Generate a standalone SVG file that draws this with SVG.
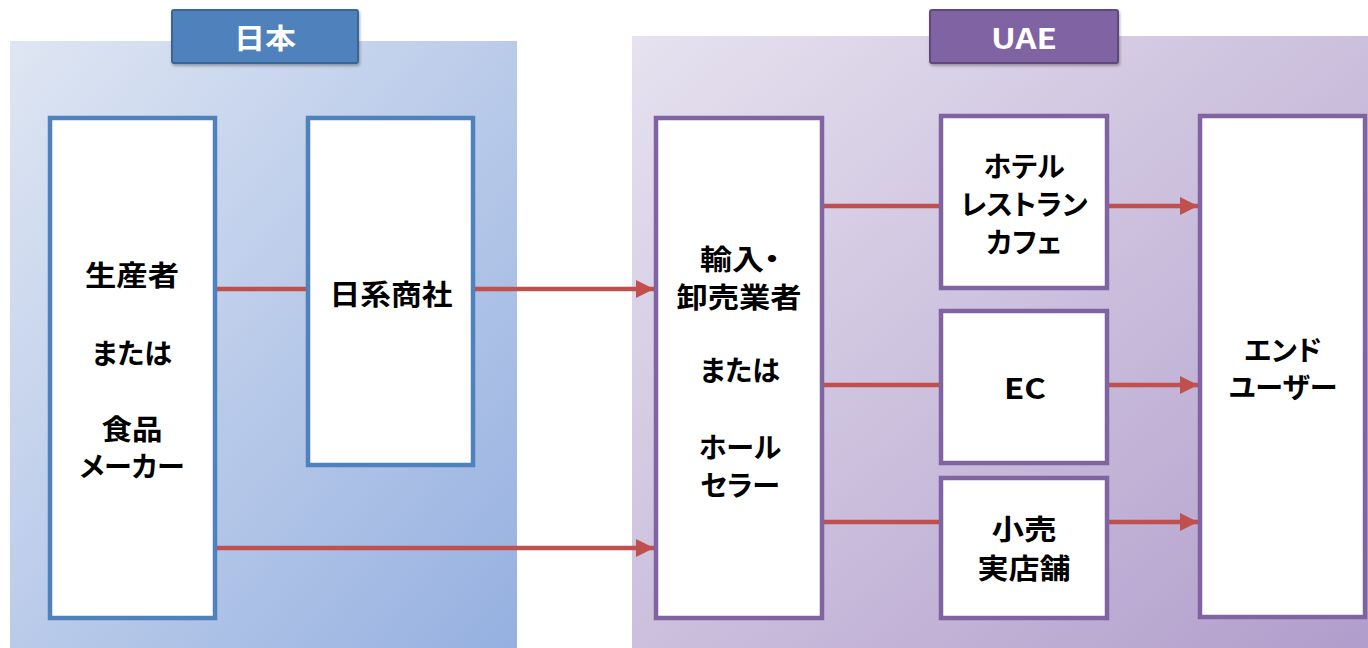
<svg xmlns="http://www.w3.org/2000/svg" width="1368" height="648" viewBox="0 0 1368 648">
<defs>
<linearGradient id="gJP" x1="0" y1="0" x2="1" y2="1">
<stop offset="0" stop-color="#dfe6f3"/>
<stop offset="1" stop-color="#95b0e0"/>
</linearGradient>
<linearGradient id="gUAE" x1="0" y1="0" x2="1" y2="1">
<stop offset="0" stop-color="#e6e2ef"/>
<stop offset="1" stop-color="#b19dcb"/>
</linearGradient>
<marker id="arr" viewBox="0 0 10 10" refX="10" refY="5" markerWidth="4" markerHeight="4" orient="auto" markerUnits="strokeWidth">
<path d="M0,0 L10,5 L0,10 Z" fill="#c0504d"/>
</marker>
<filter id="sh" x="-10%" y="-10%" width="120%" height="130%">
<feDropShadow dx="1" dy="2" stdDeviation="1.5" flood-color="#000" flood-opacity="0.3"/>
</filter>
</defs>
<style>
.t{font-family:"Noto Sans CJK JP","Noto Sans",sans-serif;font-weight:bold;font-size:28px;fill:#000;text-anchor:middle;dominant-baseline:central;font-feature-settings:"palt"}
.lt{font-family:"Noto Sans CJK JP","Noto Sans",sans-serif;font-weight:bold;font-size:28px;fill:#fff;text-anchor:middle;dominant-baseline:central;font-feature-settings:"palt"}
.nb{fill:#fff;stroke:#4f81bd;stroke-width:4.5}
.np{fill:#fff;stroke:#8064a2;stroke-width:4.5}
.c{stroke:#c0504d;stroke-width:4.5;fill:none}
.ca{stroke:#c0504d;stroke-width:4.5;fill:none;marker-end:url(#arr)}
</style>
<g id="panel-japan">
<rect x="10" y="41" width="507" height="607" fill="url(#gJP)"/>
</g>
<g id="panel-uae">
<rect x="632" y="36" width="736" height="612" fill="url(#gUAE)"/>
</g>
<g id="label-japan">
<rect x="172" y="10" width="186" height="53" rx="2" fill="#4f81bd" stroke="#3b6595" stroke-width="2" filter="url(#sh)"/>
<text class="lt" x="265" y="37" textLength="62" lengthAdjust="spacingAndGlyphs">日本</text>
</g>
<g id="label-uae">
<rect x="930" y="10" width="188" height="53" rx="2" fill="#8064a2" stroke="#5f4a7c" stroke-width="2" filter="url(#sh)"/>
<text class="lt" x="1024" y="37" textLength="66" lengthAdjust="spacingAndGlyphs">UAE</text>
</g>
<g id="connectors">
<line class="c" x1="217" y1="289" x2="306" y2="289"/>
<line class="ca" x1="475" y1="289" x2="654" y2="289"/>
<line class="ca" x1="217" y1="548" x2="654" y2="548"/>
<line class="c" x1="824" y1="206" x2="939" y2="206"/>
<line class="ca" x1="1109" y1="206" x2="1198" y2="206"/>
<line class="c" x1="824" y1="385" x2="939" y2="385"/>
<line class="ca" x1="1109" y1="385" x2="1198" y2="385"/>
<line class="c" x1="824" y1="522" x2="939" y2="522"/>
<line class="ca" x1="1109" y1="522" x2="1198" y2="522"/>
</g>
<g id="node-producer">
<rect class="nb" x="50" y="118" width="165" height="500"/>
<text class="t" x="132" y="274" textLength="94" lengthAdjust="spacingAndGlyphs">生産者</text>
<text class="t" x="132" y="352">または</text>
<text class="t" x="132" y="428" textLength="61" lengthAdjust="spacingAndGlyphs">食品</text>
<text class="t" x="132" y="465">メーカー</text>
</g>
<g id="node-trading">
<rect class="nb" x="308" y="118" width="165" height="347"/>
<text class="t" x="391" y="293" textLength="123" lengthAdjust="spacingAndGlyphs">日系商社</text>
</g>
<g id="node-importer">
<rect class="np" x="656" y="118" width="166" height="500"/>
<text class="t" x="740" y="258" textLength="80" lengthAdjust="spacingAndGlyphs">輸入・</text>
<text class="t" x="739" y="296" textLength="125" lengthAdjust="spacingAndGlyphs">卸売業者</text>
<text class="t" x="740" y="369">または</text>
<text class="t" x="740" y="446">ホール</text>
<text class="t" x="740" y="484">セラー</text>
</g>
<g id="node-hotel">
<rect class="np" x="941" y="116" width="166" height="172"/>
<text class="t" x="1024" y="165">ホテル</text>
<text class="t" x="1024" y="203">レストラン</text>
<text class="t" x="1024" y="241">カフェ</text>
</g>
<g id="node-ec">
<rect class="np" x="941" y="311" width="166" height="152"/>
<text class="t" x="1025" y="387" textLength="42" lengthAdjust="spacingAndGlyphs">EC</text>
</g>
<g id="node-retail">
<rect class="np" x="941" y="478" width="166" height="140"/>
<text class="t" x="1024" y="528" textLength="65" lengthAdjust="spacingAndGlyphs">小売</text>
<text class="t" x="1024" y="567" textLength="93" lengthAdjust="spacingAndGlyphs">実店舗</text>
</g>
<g id="node-enduser">
<rect class="np" x="1200" y="116" width="165" height="501"/>
<text class="t" x="1283" y="349">エンド</text>
<text class="t" x="1283" y="386">ユーザー</text>
</g>
</svg>
